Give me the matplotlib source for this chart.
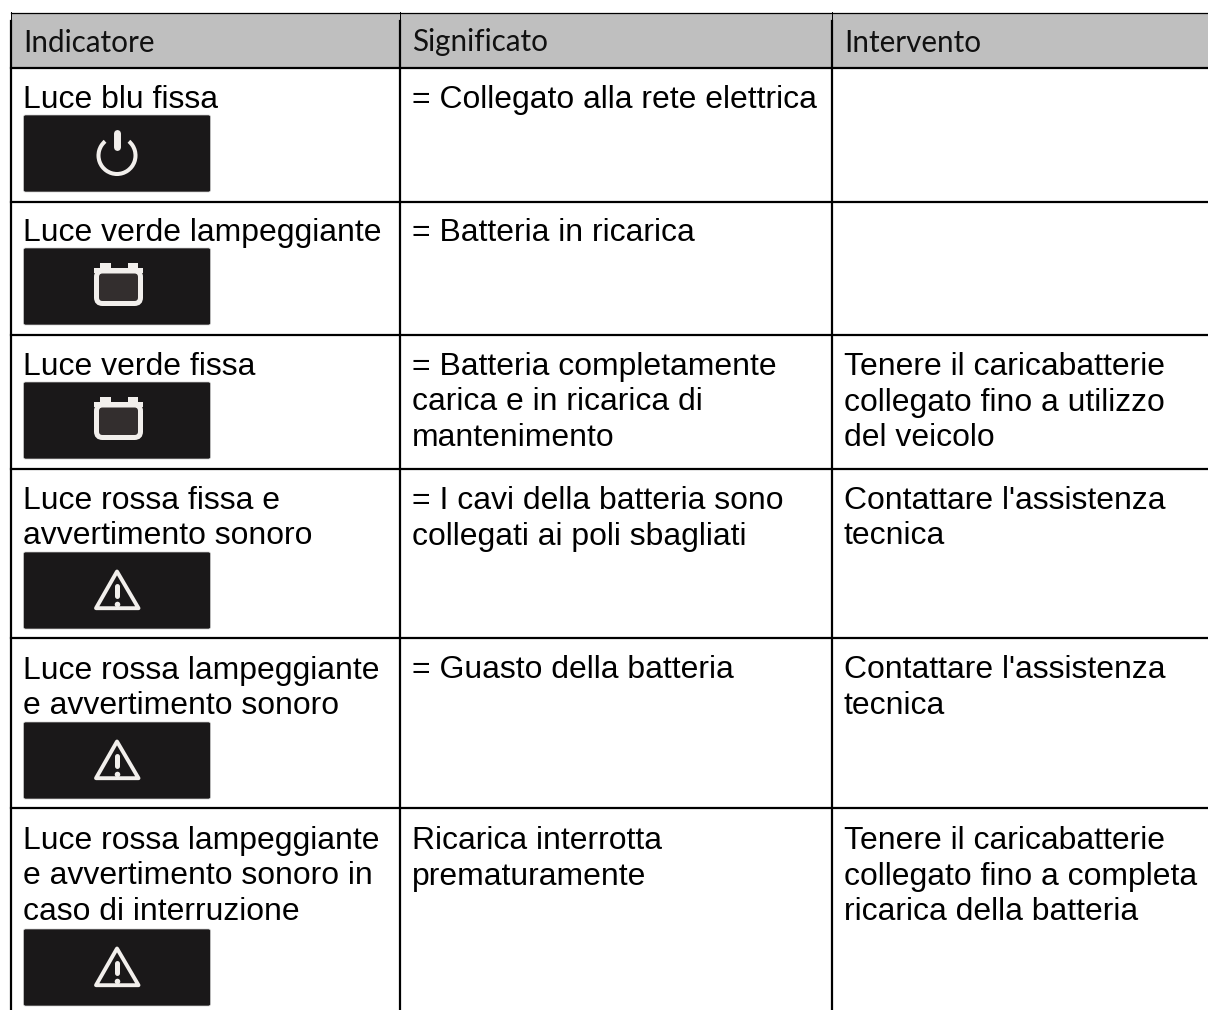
"""Indicator table of the battery charger, drawn in pixel coordinates."""
import matplotlib
matplotlib.use("Agg")
import matplotlib.pyplot as plt
from matplotlib.patches import Arc, FancyBboxPatch, Polygon, Rectangle

W, H = 1208, 1010

headers = ["Indicatore", "Significato", "Intervento"]
indicatore = [
    ["Luce blu fissa"],
    ["Luce verde lampeggiante"],
    ["Luce verde fissa"],
    ["Luce rossa fissa e", "avvertimento sonoro"],
    ["Luce rossa lampeggiante", "e avvertimento sonoro"],
    ["Luce rossa lampeggiante", "e avvertimento sonoro in", "caso di interruzione"],
]
significato = [
    ["= Collegato alla rete elettrica"],
    ["= Batteria in ricarica"],
    ["= Batteria completamente", "carica e in ricarica di", "mantenimento"],
    ["= I cavi della batteria sono", "collegati ai poli sbagliati"],
    ["= Guasto della batteria"],
    ["Ricarica interrotta", "prematuramente"],
]
intervento = [
    [],
    [],
    ["Tenere il caricabatterie", "collegato fino a utilizzo", "del veicolo"],
    ["Contattare l'assistenza", "tecnica"],
    ["Contattare l'assistenza", "tecnica"],
    ["Tenere il caricabatterie", "collegato fino a completa", "ricarica della batteria"],
]
icons = ["power", "battery", "battery", "warning", "warning", "warning"]

col_lines = [11, 399.5, 832]
row_lines = [67.5, 201.5, 334.5, 469, 638, 808]
first_baseline = [108, 241, 375, 509, 678.5, 849]
panel_top = [115, 248, 382, 552, 722, 929]
col_text = [23, 412, 844]
LINE_H = 35.5
PANEL = "#1a1819"
ICON = "#f2efec"


def draw_icon(ax, kind, top):
    ax.add_patch(FancyBboxPatch((25, top + 1.5), 184, 74, boxstyle="round,pad=1.5,rounding_size=2",
                                fc=PANEL, ec="#cfcfcf", lw=0.5))
    cx = 117
    if kind == "power":
        cy = top + 40.5
        ax.add_patch(Arc((cx, cy), 37, 37, theta1=-50, theta2=230, color=ICON, lw=2.9))
        ax.plot([cx, cx], [top + 17.5, top + 32], color=ICON, lw=5, solid_capstyle="round")
    elif kind == "battery":
        ax.add_patch(FancyBboxPatch((96.5, top + 23), 44, 32.5, boxstyle="round,pad=0,rounding_size=6",
                                    fc="#332e2e", ec=ICON, lw=3.6))
        ax.add_patch(Rectangle((94, top + 20), 49, 4.7, fc=ICON, ec="none"))
        ax.add_patch(Rectangle((99.5, top + 15), 11, 6, fc=ICON, ec="none"))
        ax.add_patch(Rectangle((127.5, top + 15), 10, 6, fc=ICON, ec="none"))
    else:
        ax.add_patch(Polygon([(cx, top + 19.5), (138.5, top + 56.2), (96, top + 56.2)], closed=True,
                             fc="none", ec=ICON, lw=2.8, joinstyle="round"))
        ax.plot([cx, cx], [top + 34, top + 44], color=ICON, lw=3.6, solid_capstyle="round")
        ax.plot([cx], [top + 52], "o", color=ICON, ms=4, mew=0)


def main():
    fig = plt.figure(figsize=(W / 100, H / 100), dpi=100)
    ax = fig.add_axes([0, 0, 1, 1])
    ax.set_xlim(0, W)
    ax.set_ylim(H, 0)
    ax.axis("off")

    ax.add_patch(Rectangle((col_lines[0], 12.5), W - col_lines[0], row_lines[0] - 12.5,
                           fc="#bfbfbf", ec="none", zorder=0))
    ax.plot([col_lines[0], W], [12.5, 12.5], color="black", lw=0.9)
    for y in row_lines:
        ax.plot([col_lines[0], W], [y, y], color="black", lw=1.6)
    for x in col_lines:
        ax.plot([x, x], [12, 21], color="black", lw=0.7)
        ax.plot([x, x], [21, H], color="black", lw=1.6)

    for x, label in zip(col_text, headers):
        ax.text(x, 51.5, label, family="Lato", fontsize=21.3, color="#111111", va="baseline")

    for col, x in zip((indicatore, significato, intervento), col_text):
        for lines, y0 in zip(col, first_baseline):
            for i, line in enumerate(lines):
                ax.text(x, y0 + i * LINE_H, line, family="Liberation Sans", fontsize=22.95,
                        color="black", va="baseline")

    for kind, top in zip(icons, panel_top):
        draw_icon(ax, kind, top)

    fig.savefig("out.png", dpi=100)


if __name__ == "__main__":
    main()
